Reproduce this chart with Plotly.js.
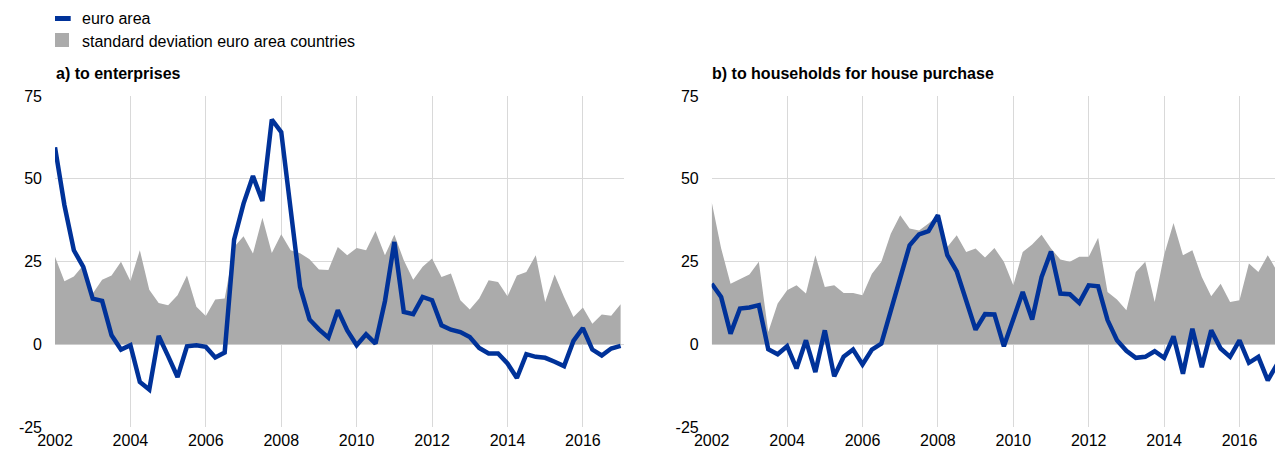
<!DOCTYPE html>
<html>
<head>
<meta charset="utf-8">
<script src="https://cdn.plot.ly/plotly-3.0.1.min.js"></script>
<style>
html,body{margin:0;padding:0;background:#fff;overflow:hidden;}
#chart{width:1275px;height:453px;}
</style>
</head>
<body>
<div id="chart"></div>
<script>
// Quarterly observations, 2002 Q1 ... 2017 Q1
const startYear = 2002;
const quarterCount = 61;
const quarters = Array.from({length: quarterCount}, (_, i) => startYear + i / 4);

const tickYears = [2002, 2004, 2006, 2008, 2010, 2012, 2014, 2016];
const tickValuesY = [-25, 0, 25, 50, 75];

// a) to enterprises
const entEuroArea = [59.5, 42, 28.4, 23.4, 13.8, 13.1, 2.7, -1.6, -0.3, -11.4, -13.7, 2.5, -3.6, -9.9, -0.6, -0.3, -0.8, -4.0, -2.5, 31.6,
  42.5, 50.8, 43.3, 67.9, 64.1, 42, 17.3, 7.5, 4.5, 2.0, 10.3, 4.2, -0.3, 3.0, 0.2, 13, 30.9, 9.8, 9.1, 14.3,
  13.3, 5.7, 4.4, 3.7, 2.2, -1.1, -2.8, -2.8, -5.8, -10.2, -3.0, -3.8, -4.1, -5.3, -6.6, 1.0, 4.9, -1.6, -3.4, -1.3, -0.5];
const entStdDev = [26.4, 19.0, 20.5, 23.9, 15.3, 19.5, 20.8, 24.9, 19.1, 28.4, 16.5, 12.5, 11.8, 14.8, 20.8, 11.3, 8.5, 13.5, 13.8, 29.4,
  32.6, 27.4, 38.2, 27.6, 33.2, 28.4, 27.5, 25.7, 22.6, 22.4, 29.4, 26.9, 29.1, 28.4, 34.2, 26.9, 33.1, 25.4, 19.5, 23.4,
  25.9, 20.3, 21.4, 13.3, 10.5, 13.8, 19.3, 18.8, 14.5, 20.8, 21.8, 26.9, 12.8, 21.1, 14.3, 8.2, 11.1, 6.2, 9.0, 8.6, 12.1];

// b) to households for house purchase
const hhEuroArea = [18.3, 14.3, 3.2, 10.8, 11.1, 11.8, -1.5, -3.0, -0.6, -7.3, 1.2, -8.4, 4.2, -9.7, -3.8, -1.6, -6.1, -1.6, 0.2, 10,
  20, 29.9, 33.2, 34.2, 39.0, 26.9, 22.0, 13, 4.4, 9.1, 9.0, -0.6, 7.3, 15.8, 7.5, 20.3, 28.0, 15.3, 15.1, 12.5,
  17.8, 17.5, 7.3, 1.2, -2.0, -4.1, -3.8, -2.1, -4.1, 2.4, -8.9, 4.7, -6.9, 4.2, -1.3, -3.8, 1.2, -5.6, -3.8, -10.9, -6];
const hhStdDev = [43.0, 29, 18.3, 19.8, 21.1, 24.9, 3.7, 12.3, 16.3, 17.8, 15.3, 26.9, 17.3, 17.8, 15.5, 15.5, 14.8, 21.3, 24.9, 33.4,
  39.0, 35.0, 34.4, 36.5, 39.0, 29.4, 32.9, 27.9, 28.9, 26.2, 29.1, 24.9, 17.8, 27.9, 30.1, 33.1, 28.9, 25.6, 24.9, 26.4,
  26.4, 32.2, 15.8, 13.5, 10.3, 21.8, 24.9, 12.8, 27, 36.6, 26.9, 28.4, 20.3, 14.5, 18.3, 12.8, 13.3, 24.4, 21.8, 26.9, 22];

const seriesNames = ['euro area', 'standard deviation euro area countries'];
const panelTitles = ['a) to enterprises', 'b) to households for house purchase'];

const BLUE = '#003299';
const GREY = '#ababab';
const FONT = 'Arial, "Liberation Sans", sans-serif';
const FS = 16;

function areaTrace(y, xa, ya) {
  return {x: quarters, y: y, xaxis: xa, yaxis: ya, type: 'scatter', mode: 'lines',
    fill: 'tozeroy', fillcolor: GREY, line: {width: 0, color: GREY}, showlegend: false, hoverinfo: 'skip'};
}
function lineTrace(y, xa, ya) {
  return {x: quarters, y: y, xaxis: xa, yaxis: ya, type: 'scatter', mode: 'lines',
    line: {width: 4.5, color: BLUE}, showlegend: false};
}

const data = [
  areaTrace(entStdDev, 'x', 'y'),
  lineTrace(entEuroArea, 'x', 'y'),
  areaTrace(hhStdDev, 'x2', 'y2'),
  lineTrace(hhEuroArea, 'x2', 'y2')
];

const W = 1275, H = 453;
const mL = 55, mR = 0, mT = 95.7, mB = 26.3;
const pw = W - mL - mR, ph = H - mT - mB;
const px = v => (v - mL) / pw;          // pixel x -> paper
const py = v => (H - mB - v) / ph;      // pixel y -> paper

function xAxis(domain, range) {
  return {domain: domain, range: range, tickvals: tickYears, ticktext: tickYears.map(String),
    showgrid: true, gridcolor: '#d9d9d9', gridwidth: 1, zeroline: false, showline: false,
    ticks: '', ticklabelstandoff: 2, tickfont: {family: FONT, size: FS, color: '#000'}, fixedrange: true};
}
function yAxis(anchor) {
  return {anchor: anchor, range: [-25, 75], tickvals: tickValuesY, ticktext: tickValuesY.map(String),
    showgrid: true, gridcolor: '#d9d9d9', gridwidth: 1, zeroline: false, showline: false,
    ticks: '', ticklabelstandoff: 12, tickfont: {family: FONT, size: FS, color: '#000'}, fixedrange: true};
}

const layout = {
  width: W, height: H,
  margin: {l: mL, r: mR, t: mT, b: mB, pad: 0},
  paper_bgcolor: '#fff', plot_bgcolor: '#fff',
  font: {family: FONT, size: FS, color: '#000'},
  showlegend: false,
  xaxis: xAxis([0, px(624)], [2002, 2017.09]),
  yaxis: yAxis('x'),
  xaxis2: xAxis([px(711.7), 1], [2002, 2002 + (1275 - 711.7) / 37.7]),
  yaxis2: yAxis('x2'),
  shapes: [
    {type: 'rect', xref: 'paper', yref: 'paper', x0: px(55), x1: px(70.7), y0: py(20.7), y1: py(15.7),
      fillcolor: BLUE, line: {width: 0}},
    {type: 'rect', xref: 'paper', yref: 'paper', x0: px(55), x1: px(69), y0: py(46.7), y1: py(32.7),
      fillcolor: GREY, line: {width: 0}}
  ],
  annotations: [
    {text: seriesNames[0], xref: 'paper', yref: 'paper', x: px(80), y: py(17.8), xanchor: 'left', yanchor: 'middle',
      showarrow: false, font: {family: FONT, size: FS, color: '#000'}},
    {text: seriesNames[1], xref: 'paper', yref: 'paper', x: px(80), y: py(41.2), xanchor: 'left', yanchor: 'middle',
      showarrow: false, font: {family: FONT, size: FS, color: '#000'}},
    {text: '<b>' + panelTitles[0] + '</b>', xref: 'paper', yref: 'paper', x: px(53.5), y: py(73.3), xanchor: 'left', yanchor: 'middle',
      showarrow: false, font: {family: FONT, size: FS, color: '#000'}},
    {text: '<b>' + panelTitles[1] + '</b>', xref: 'paper', yref: 'paper', x: px(710), y: py(73.3), xanchor: 'left', yanchor: 'middle',
      showarrow: false, font: {family: FONT, size: FS, color: '#000'}}
  ]
};

Plotly.newPlot('chart', data, layout, {displayModeBar: false, staticPlot: true});
</script>
</body>
</html>
